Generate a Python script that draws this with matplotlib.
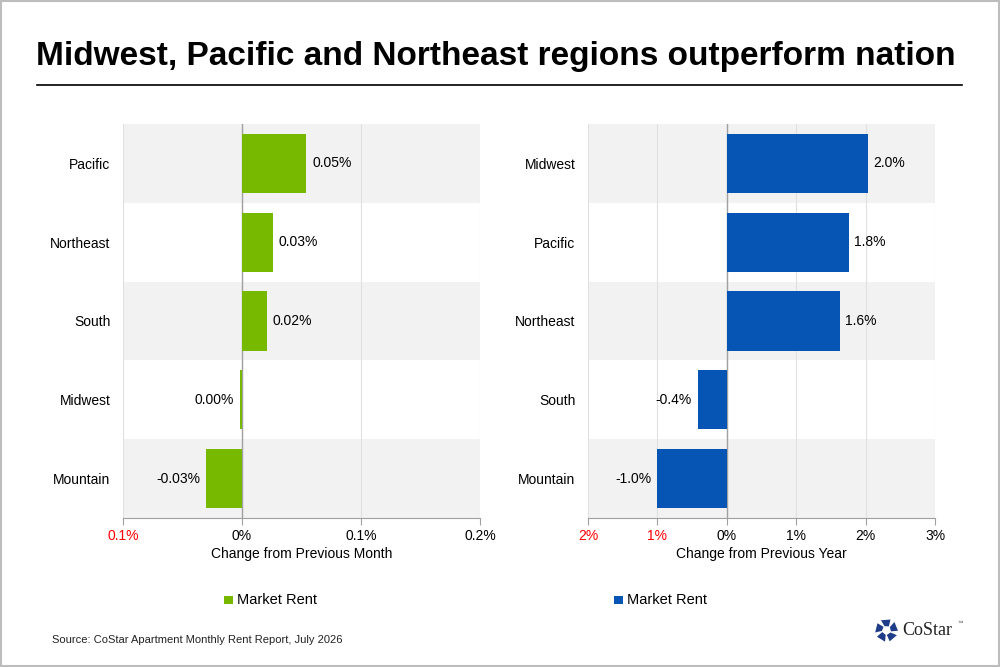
import matplotlib
matplotlib.use("Agg")
import matplotlib.pyplot as plt
from matplotlib.patches import Rectangle, Polygon
import numpy as np

plt.rcParams['font.family'] = ['Liberation Sans', 'DejaVu Sans']

# data
title = "Midwest, Pacific and Northeast regions outperform nation"
month_regions = ["Pacific", "Northeast", "South", "Midwest", "Mountain"]
month_values = [0.054, 0.026, 0.021, -0.002, -0.030]
month_labels = ["0.05%", "0.03%", "0.02%", "0.00%", "-0.03%"]
month_ticks = [-0.1, 0.0, 0.1, 0.2]
month_ticklabels = ["0.1%", "0%", "0.1%", "0.2%"]

year_regions = ["Midwest", "Pacific", "Northeast", "South", "Mountain"]
year_values = [2.03, 1.76, 1.63, -0.42, -1.0]
year_labels = ["2.0%", "1.8%", "1.6%", "-0.4%", "-1.0%"]
year_ticks = [-2, -1, 0, 1, 2, 3]
year_ticklabels = ["2%", "1%", "0%", "1%", "2%", "3%"]

green = "#76b900"
blue = "#0654b4"
band = "#f2f2f2"

fig = plt.figure(figsize=(10, 6.67), dpi=100)

# border
fig.add_artist(Rectangle((0.001, 0.001), 0.998, 0.998, transform=fig.transFigure,
                         fill=False, edgecolor="#bdbdbd", linewidth=1.5))

fig.text(0.036, 0.916, title, fontsize=24, fontweight="bold", ha="left", va="center")
fig.add_artist(plt.Line2D([0.037, 0.962], [0.872, 0.872], color="black", linewidth=1.2))


def draw_panel(rect, regions, values, labels, ticks, ticklabels, color, xlabel, offset):
    ax = fig.add_axes(rect)
    n = len(regions)
    y = np.arange(n)
    lo, hi = ticks[0], ticks[-1]
    ax.set_xlim(lo, hi)
    ax.set_ylim(n - 0.5, -0.5)
    for i in range(n):
        if i % 2 == 0:
            ax.axhspan(i - 0.5, i + 0.5, color=band, zorder=0, linewidth=0)
    for t in ticks:
        ax.axvline(t, color="#e0e0e0", linewidth=0.8, zorder=1)
    ax.axvline(0, color="#a0a0a0", linewidth=1.0, zorder=1.5)
    ax.barh(y, values, height=0.75, color=color, zorder=2)
    for yi, v, lab in zip(y, values, labels):
        if v >= 0:
            ax.text(v + offset, yi, lab, ha="left", va="center", fontsize=10, zorder=4)
        else:
            ax.text(v - offset, yi, lab, ha="right", va="center", fontsize=10, zorder=4)
    ax.set_yticks(y)
    ax.set_yticklabels(regions, fontsize=10)
    ax.set_xticks(ticks)
    ax.set_xticklabels(ticklabels, fontsize=10)
    for lab, t in zip(ax.get_xticklabels(), ticks):
        if t < 0:
            lab.set_color("#ff0000")
    ax.tick_params(axis="y", length=0, pad=9)
    ax.tick_params(axis="x", length=5, color="#a0a0a0", pad=3)
    for s in ["top", "right", "left"]:
        ax.spines[s].set_visible(False)
    ax.spines["bottom"].set_color("#a0a0a0")
    ax.set_xlabel(xlabel, fontsize=10, labelpad=3)
    return ax


draw_panel([0.123, 0.2234, 0.357, 0.5907], month_regions, month_values, month_labels,
           month_ticks, month_ticklabels, green, "Change from Previous Month", 0.005)
draw_panel([0.588, 0.2234, 0.347, 0.5907], year_regions, year_values, year_labels,
           year_ticks, year_ticklabels, blue, "Change from Previous Year", 0.08)

# legends
fig.add_artist(Rectangle((0.224, 0.094), 0.009, 0.013, transform=fig.transFigure,
                         facecolor=green, edgecolor="none"))
fig.text(0.237, 0.1005, "Market Rent", fontsize=10.5, va="center", ha="left")
fig.add_artist(Rectangle((0.614, 0.094), 0.009, 0.013, transform=fig.transFigure,
                         facecolor=blue, edgecolor="none"))
fig.text(0.627, 0.1005, "Market Rent", fontsize=10.5, va="center", ha="left")

fig.text(0.052, 0.040, "Source: CoStar Apartment Monthly Rent Report, July 2026",
         fontsize=8, va="center", ha="left", color="#222222")

# logo
cx, cy = 0.8865, 0.055
ang = np.linspace(0, 2 * np.pi, 6)[:-1] + np.pi / 2
for a in ang:
    pts = []
    for da, r in [(-0.55, 0.4), (0.45, 0.4), (0.5, 1.0), (-0.35, 1.0)]:
        pts.append((cx + 0.0115 * r * np.cos(a + da), cy + 0.0172 * r * np.sin(a + da)))
    fig.add_artist(Polygon(pts, closed=True, transform=fig.transFigure,
                           facecolor="#1f3c88", edgecolor="none"))
fig.text(0.902, 0.055, "CoStar", fontsize=13, family=["Liberation Serif", "DejaVu Serif"],
         va="center", ha="left", color="#222222")
fig.text(0.958, 0.066, "\u2122", fontsize=4, va="center", ha="left", color="#444444")

fig.savefig("out.png", dpi=100)
